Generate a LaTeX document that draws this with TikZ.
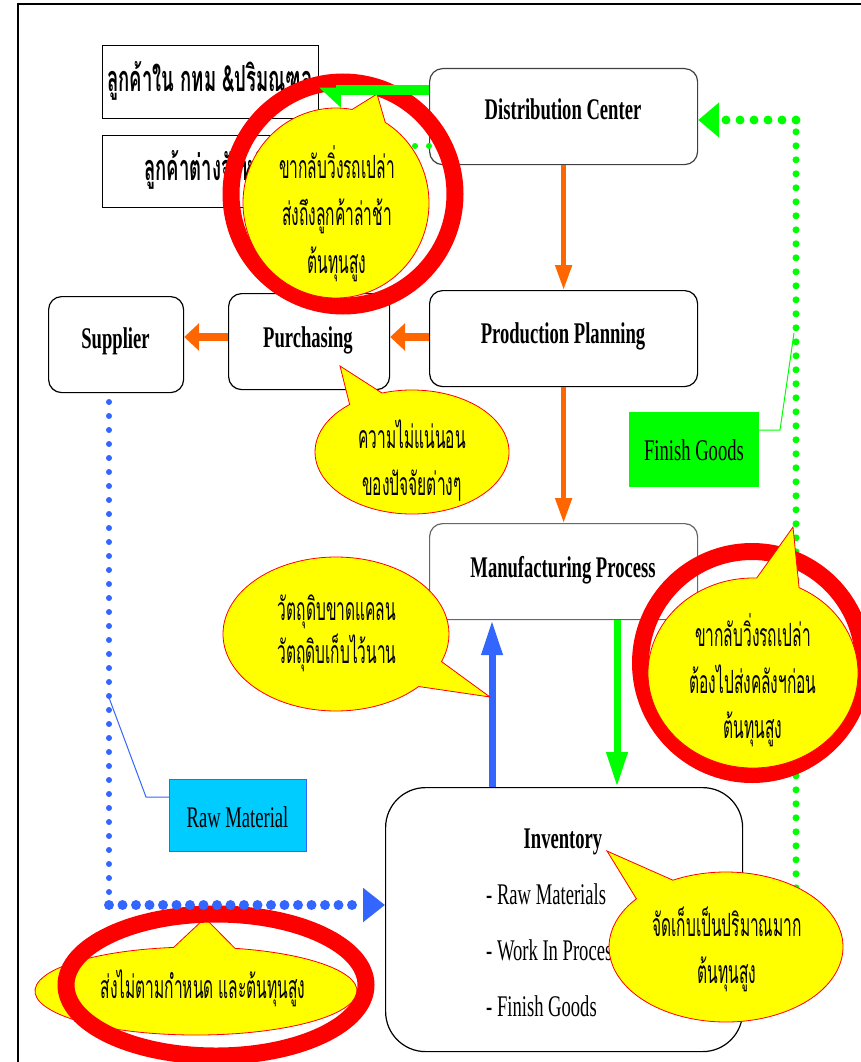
\documentclass[tikz,border=0pt]{standalone}
\usepackage{fontspec}
\usepackage{graphicx}
\setmainfont[FakeStretch=0.62]{Liberation Serif}
\newfontfamily\thai[Script=Thai,FakeStretch=0.485]{Loma}
\newfontfamily\thaititle[Script=Thai,FakeStretch=0.515]{Loma}
\usetikzlibrary{arrows.meta,calc}
\definecolor{orng}{HTML}{FF6600}
\definecolor{grn}{HTML}{00FF00}
\definecolor{blu}{HTML}{3366FF}
\definecolor{cyanbox}{HTML}{00CCFF}
\definecolor{ylw}{HTML}{FFFF00}
\newcommand\bubble[8]{%
  \filldraw[bubblestyle] ($(#1,#2)+(#6:#3 and #4)$) arc[start angle=#6, end angle={#5+360}, x radius=#3, y radius=#4] -- (#7,#8) -- cycle;}
\begin{document}
\begin{tikzpicture}[x=1pt,y=-1pt,
  sbox/.style={draw=black,line width=1.2pt,fill=white,inner sep=0pt,anchor=north west},
  rbox/.style={sbox,rounded corners=13pt},
  lbl/.style={inner sep=0pt,anchor=base,font=\fontsize{30}{36}\selectfont\bfseries},
  item/.style={inner sep=0pt,anchor=base west,font=\fontsize{30}{36}\selectfont},
  plain/.style={inner sep=0pt,anchor=base,font=\fontsize{30}{36}\selectfont},
  ctxt/.style={inner sep=0pt,anchor=base,font=\thai\fontsize{32}{38}\selectfont},
  ctitle/.style={inner sep=0pt,anchor=base,font=\thaititle\fontsize{36}{42}\selectfont\bfseries},
  bubblestyle/.style={fill=ylw,draw=red,line width=0.8pt},
  ring/.style={draw=red,line width=17pt},
  oarrowv/.style={draw=orng,line width=5pt,-{Triangle[length=25pt,width=16pt]}},
  oarrowh/.style={draw=orng,line width=8pt,-{Triangle[length=15pt,width=27pt]}},
  barrow/.style={draw=blu,line width=7pt,-{Triangle[length=35pt,width=20pt]}},
  garrow/.style={draw=grn,line width=7pt,-{Triangle[length=35pt,width=20pt]}},
  gthick/.style={draw=grn,line width=10pt,-{Triangle[length=19pt,width=34pt,harpoon]}},
  bdotv/.style={draw=blu,line width=6pt,line cap=round,dash pattern=on 0pt off 14pt},
  bdoth/.style={draw=blu,line width=10pt,line cap=round,dash pattern=on 0pt off 13.5pt,-{Triangle[length=22pt,width=33pt]}},
  gdotv/.style={draw=grn,line width=7pt,line cap=round,dash pattern=on 0pt off 14pt},
  gdoth/.style={draw=grn,line width=9pt,line cap=round,dash pattern=on 0pt off 14pt,-{Triangle[length=21pt,width=34pt]}},
  gdots/.style={draw=grn,line width=6pt,line cap=round,dash pattern=on 0pt off 14pt},
  ]
\useasboundingbox (0,0) rectangle (861,1062);
% frame
\draw[line width=2pt] (18,1062) -- (18,4) -- (861,4);

% customer boxes
\node[sbox,minimum width=216pt,minimum height=73pt] (cust1) at (102,45) {};
\node[sbox,minimum width=216pt,minimum height=72pt] (cust2) at (102,135) {};
\node[ctitle] (cust1t) at (210,92) {ลูกค้าใน กทม \&ปริมณฑล};
\node[ctitle] (cust2t) at (210,180) {ลูกค้าต่างจังหวัด};

% main boxes
\node[rbox,draw=black!75,minimum width=268pt,minimum height=96pt] (dc) at (429,68) {};
\node[rbox,minimum width=268pt,minimum height=96pt] (pp) at (429,290) {};
\node[rbox,draw=black!60,minimum width=268pt,minimum height=96pt] (mp) at (429,523) {};
\node[rbox,minimum width=161pt,minimum height=96pt] (pur) at (228,293) {};
\node[rbox,minimum width=135pt,minimum height=96pt] (sup) at (48,296) {};
\node[sbox,rounded corners=40pt,minimum width=357pt,minimum height=264pt] (inv) at (385,787) {};
\node[anchor=north west,fill=grn,inner sep=0pt,minimum width=130pt,minimum height=75pt] (fg) at (629,412) {};
\node[anchor=north west,fill=cyanbox,draw=blu,line width=0.8pt,inner sep=0pt,minimum width=137pt,minimum height=72pt] (rm) at (169,779) {};

\node[lbl] (dct) at (563,120) {Distribution Center};
\node[lbl] (ppt) at (563,343) {Production Planning};
\node[lbl] (mpt) at (563,577) {Manufacturing Process};
\node[lbl] (purt) at (308,347) {Purchasing};
\node[lbl] (supt) at (115.5,348) {Supplier};
\node[lbl] (invt) at (563,848) {Inventory};
\node[item] (inv1) at (486,904) {- Raw Materials};
\node[item] (inv2) at (486,960) {- Work In Process};
\node[item] (inv3) at (486,1016) {- Finish Goods};
\node[plain] (fgt) at (694,460) {Finish Goods};
\node[plain] (rmt) at (237.5,827) {Raw Material};

% orange connectors
\coordinate (oy) at (0,337);
\draw[oarrowv] (dc.south) -- (pp.north);
\draw[oarrowv] (pp.south) -- (mp.north);
\draw[oarrowh] (pp.west |- oy) -- (pur.east |- oy);
\draw[oarrowh] (pur.west |- oy) -- (sup.east |- oy);

% solid vertical arrows
\coordinate (bx) at (492,0);
\coordinate (gx) at (617,0);
\draw[barrow] (inv.north -| bx) -- (mp.south -| bx);
\draw[garrow] (mp.south -| gx) -- (inv.north -| gx);

% dotted connectors
\coordinate (bs) at (109,402);
\coordinate (bc) at (109,905);
\draw[bdotv] (bs) -- (bc);
\coordinate (gc) at (796,905);
\coordinate (gt) at (796,120);
\draw[gdotv] (gc -| inv.east) -- (gc) -- (gt);
\draw[gdoth] (gt) -- (gt -| dc.east);
\coordinate (g2) at (429,146);
\draw[gdots] (dc.west |- g2) -- (cust2.east |- g2);

% leader lines
\coordinate (fl1) at (780,430);
\coordinate (fl2) at (794,333);
\draw[grn,line width=1pt] (fg.east |- fl1) -- (fl1) -- (fl2);
\coordinate (bl1) at (146,797);
\coordinate (bl2) at (108,695);
\draw[blu,line width=1pt] (rm.west |- bl1) -- (bl1) -- (bl2);

% top callout
\draw[ring] (343,194) circle[radius=112];
\bubble{336}{203}{93}{95}{-80}{-58}{377}{94}
\node[ctxt] (c1a) at (337,178) {ขากลับวิ่งรถเปล่า};
\node[ctxt] (c1b) at (337,225) {ส่งถึงลูกค้าล่าช้า};
\node[ctxt] (c1c) at (337,273) {ต้นทุนสูง};
\coordinate (gy) at (0,90);
\draw[gthick] (dc.west |- gy) -- (cust1.east |- gy);

% purchasing callout
\bubble{412}{452}{97}{62}{-130}{-108}{340}{366}
\node[ctxt] (c2a) at (412,448) {ความไม่แน่นอน};
\node[ctxt] (c2b) at (412,495) {ของปัจจัยต่างๆ};

% MP left callout
\bubble{336}{634}{113}{77}{21}{43}{490}{697}
\node[ctxt] (c3a) at (337,620) {วัตถุดิบขาดแคลน};
\node[ctxt] (c3b) at (337,663) {วัตถุดิบเก็บไว้นาน};

% right callout
\draw[ring] (752,663) circle[radius=111.5];
\bubble{753}{673}{105}{95}{-88}{-64}{793}{527}
\node[ctxt] (c4a) at (753,646) {ขากลับวิ่งรถเปล่า};
\node[ctxt] (c4b) at (753,693) {ต้องไปส่งคลังฯก่อน};
\node[ctxt] (c4c) at (753,738) {ต้นทุนสูง};

% inventory callout
\bubble{726}{947}{117}{75}{-140}{-117}{607}{851}
\node[ctxt] (c5a) at (727,936) {จัดเก็บเป็นปริมาณมาก};
\node[ctxt] (c5b) at (727,983) {ต้นทุนสูง};

% bottom callout
\bubble{196}{991}{161}{44}{-98}{-76}{205}{918}
\node[ctxt] (c6a) at (203,998) {ส่งไม่ตามกำหนด และต้นทุนสูง};
\draw[ring] (216,985) ellipse[x radius=150, y radius=71];
\draw[bdoth] (bc) -- (bc -| inv.west);
\end{tikzpicture}
\end{document}
